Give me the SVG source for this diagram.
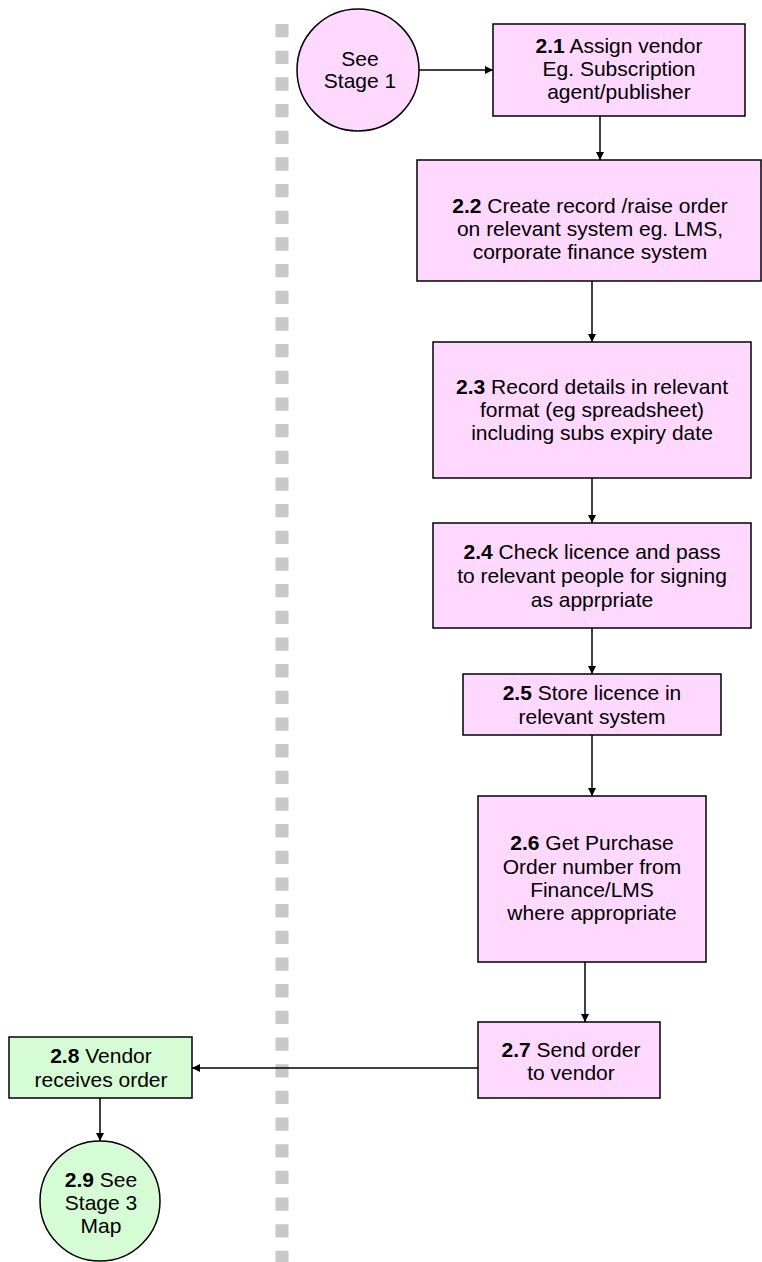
<svg xmlns="http://www.w3.org/2000/svg" width="762" height="1262" viewBox="0 0 762 1262">
<defs>
<marker id="ah" viewBox="0 0 10 10" refX="10" refY="5" markerWidth="8" markerHeight="8" markerUnits="userSpaceOnUse" orient="auto"><path d="M0,0 L10,5 L0,10 z" fill="#000"/></marker>
<style>
.pk{fill:#fed8fe;stroke:#000;stroke-width:1.5}
.gr{fill:#d5fcd5;stroke:#000;stroke-width:1.5}
.t{font-family:"Liberation Sans",Arial,sans-serif;font-size:21px;fill:#000;text-anchor:middle}
.b{font-weight:bold}
.c{stroke:#000;stroke-width:1.5;fill:none;marker-end:url(#ah)}
</style>
</defs>
<rect width="762" height="1262" fill="#fff"/>
<line id="divider" x1="282" y1="24" x2="282" y2="1262" stroke="#c8c8c8" stroke-width="13" stroke-dasharray="13.3 13.37"/>
<g id="n1"><circle class="pk" cx="358" cy="70" r="61"/><text class="t" x="360" y="66">See</text><text class="t" x="360" y="88">Stage 1</text></g>
<g id="n21"><rect class="pk" x="493" y="24" width="252" height="92"/><text class="t" x="619" y="53"><tspan class="b">2.1</tspan> Assign vendor</text><text class="t" x="619" y="76">Eg. Subscription</text><text class="t" x="619" y="99">agent/publisher</text></g>
<g id="n22"><rect class="pk" x="417" y="160" width="344" height="121"/><text class="t" x="590" y="213"><tspan class="b">2.2</tspan> Create record /raise order</text><text class="t" x="590" y="236">on relevant system eg. LMS,</text><text class="t" x="590" y="259">corporate finance system</text></g>
<g id="n23"><rect class="pk" x="433" y="342" width="318" height="136"/><text class="t" x="592" y="394"><tspan class="b">2.3</tspan> Record details in relevant</text><text class="t" x="592" y="417">format (eg spreadsheet)</text><text class="t" x="592" y="440">including subs expiry date</text></g>
<g id="n24"><rect class="pk" x="433" y="523" width="318" height="105"/><text class="t" x="592" y="559"><tspan class="b">2.4</tspan> Check licence and pass</text><text class="t" x="592" y="583">to relevant people for signing</text><text class="t" x="592" y="607">as apprpriate</text></g>
<g id="n25"><rect class="pk" x="463" y="674" width="258" height="61"/><text class="t" x="592" y="700"><tspan class="b">2.5</tspan> Store licence in</text><text class="t" x="592" y="724">relevant system</text></g>
<g id="n26"><rect class="pk" x="478" y="796" width="228" height="166"/><text class="t" x="592" y="850"><tspan class="b">2.6</tspan> Get Purchase</text><text class="t" x="592" y="874">Order number from</text><text class="t" x="592" y="897">Finance/LMS</text><text class="t" x="592" y="920">where appropriate</text></g>
<g id="n27"><rect class="pk" x="478" y="1022" width="182" height="76"/><text class="t" x="571" y="1057"><tspan class="b">2.7</tspan> Send order</text><text class="t" x="571" y="1080">to vendor</text></g>
<g id="n28"><rect class="gr" x="9" y="1037" width="183" height="61"/><text class="t" x="101" y="1063"><tspan class="b">2.8</tspan> Vendor</text><text class="t" x="101" y="1087">receives order</text></g>
<g id="n29"><circle class="gr" cx="100" cy="1201" r="60"/><text class="t" x="101" y="1187"><tspan class="b">2.9</tspan> See</text><text class="t" x="101" y="1210">Stage 3</text><text class="t" x="101" y="1233">Map</text></g>
<g id="connectors">
<line class="c" x1="419" y1="70" x2="493" y2="70"/>
<line class="c" x1="600" y1="116" x2="600" y2="160"/>
<line class="c" x1="592" y1="281" x2="592" y2="342"/>
<line class="c" x1="592" y1="478" x2="592" y2="523"/>
<line class="c" x1="592" y1="628" x2="592" y2="674"/>
<line class="c" x1="592" y1="735" x2="592" y2="796"/>
<line class="c" x1="585" y1="962" x2="585" y2="1022"/>
<line class="c" x1="478" y1="1068" x2="192" y2="1068"/>
<line class="c" x1="100" y1="1098" x2="100" y2="1141"/>
</g>
</svg>
